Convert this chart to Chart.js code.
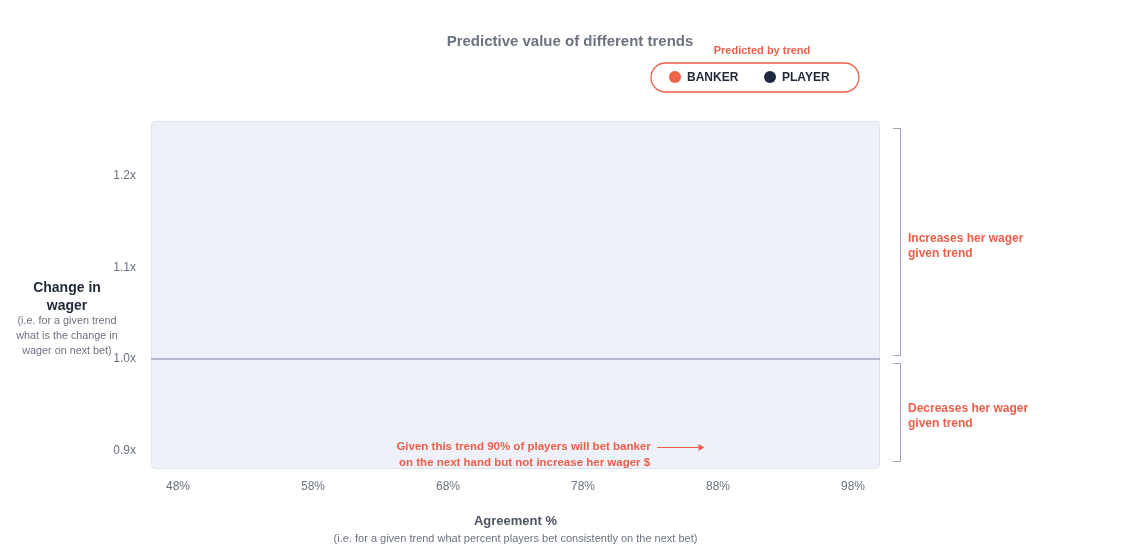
<!DOCTYPE html>
<html>
<head>
<meta charset="utf-8">
<script src="https://cdn.jsdelivr.net/npm/chart.js@4.4.1/dist/chart.umd.min.js"></script>
<style>
html,body{margin:0;padding:0;background:#fff;}
#wrap{width:1140px;height:560px;position:relative;}
</style>
</head>
<body>
<div id="wrap"><canvas id="c"></canvas></div>
<script>
// ---- data ----
const seriesNames = ['BANKER', 'PLAYER'];
const seriesColors = ['#ef6347', '#1f2a40'];
const bankerPoints = [];   // no points visible in the reference
const playerPoints = [];
const xTicks = [48, 58, 68, 78, 88, 98];
const yTicks = [0.9, 1.0, 1.1, 1.2];
const xRange = [46, 100];
const yRange = [0.88, 1.26];
const annotationLines = ['Given this trend 90% of players will bet banker', 'on the next hand but not increase her wager $'];
const annotationAt = {x: 73.6, y: 0.904, arrowFrom: 83.5, arrowTo: 87.0};
const bracketLabels = [['Increases her wager', 'given trend'], ['Decreases her wager', 'given trend']];

const FONT = '"Liberation Sans", Arial, Helvetica, sans-serif';
const RED = '#ec5f4a';

const overlay = {
  id: 'overlay',
  beforeDraw(chart) {
    const {ctx, chartArea: a} = chart;
    ctx.save();
    const r = 4;
    ctx.beginPath();
    ctx.roundRect(a.left + 0.5, a.top + 0.5, a.right - a.left - 1, a.bottom - a.top - 1, r);
    ctx.fillStyle = '#eef1f9';
    ctx.fill();
    ctx.strokeStyle = '#dfe3ec';
    ctx.lineWidth = 1;
    ctx.stroke();
    ctx.restore();
  },
  afterDraw(chart) {
    const {ctx, chartArea: a, scales} = chart;
    const W = chart.width;
    ctx.save();
    // main title
    ctx.textAlign = 'center';
    ctx.textBaseline = 'middle';
    ctx.fillStyle = '#6b7280';
    ctx.font = 'bold 15px ' + FONT;
    ctx.fillText('Predictive value of different trends', W / 2, 42);

    // legend title + pill
    ctx.fillStyle = RED;
    ctx.font = 'bold 11px ' + FONT;
    ctx.fillText('Predicted by trend', 762, 51);
    ctx.beginPath();
    ctx.roundRect(651, 63, 208, 29, 14.5);
    ctx.strokeStyle = RED;
    ctx.lineWidth = 1.3;
    ctx.stroke();
    const items = [{x: 675}, {x: 770}];
    chart.data.datasets.forEach((ds, i) => {
      const it = items[i];
      ctx.beginPath();
      ctx.arc(it.x, 77, 6, 0, Math.PI * 2);
      ctx.fillStyle = ds.backgroundColor;
      ctx.fill();
      ctx.fillStyle = '#1f2937';
      ctx.font = 'bold 12px ' + FONT;
      ctx.textAlign = 'left';
      ctx.fillText(ds.label, it.x + 12, 77.5);
    });

    // y axis title
    ctx.textAlign = 'center';
    ctx.fillStyle = '#1f2937';
    ctx.font = 'bold 14px ' + FONT;
    ctx.fillText('Change in', 67, 288);
    ctx.fillText('wager', 67, 306);
    ctx.fillStyle = '#6b7280';
    ctx.font = '10.8px ' + FONT;
    ctx.fillText('(i.e. for a given trend', 67, 321);
    ctx.fillText('what is the change in', 67, 336);
    ctx.fillText('wager on next bet)', 67, 351);

    // x axis title
    ctx.fillStyle = '#4b5563';
    ctx.font = 'bold 13px ' + FONT;
    const cx = (a.left + a.right) / 2;
    ctx.fillText('Agreement %', cx, 521);
    ctx.fillStyle = '#6b7280';
    ctx.font = '11px ' + FONT;
    ctx.fillText('(i.e. for a given trend what percent players bet consistently on the next bet)', cx, 539);

    // brackets
    const y1 = scales.y.getPixelForValue(1.0);
    const bx = a.right + 20;
    const brs = [[a.top + 7, y1 - 4], [y1 + 4, a.bottom - 8]];
    const textY = [[239, 254], [409, 424]];
    ctx.strokeStyle = '#9aa1b5';
    ctx.lineWidth = 1;
    brs.forEach(([t, b], i) => {
      ctx.beginPath();
      ctx.moveTo(bx - 7, t + 0.5);
      ctx.lineTo(bx + 0.5, t + 0.5);
      ctx.lineTo(bx + 0.5, b + 0.5);
      ctx.lineTo(bx - 7, b + 0.5);
      ctx.stroke();
      ctx.fillStyle = RED;
      ctx.font = 'bold 12px ' + FONT;
      ctx.textAlign = 'left';
      const lines = bracketLabels[i];
      ctx.fillText(lines[0], bx + 8, textY[i][0]);
      ctx.fillText(lines[1], bx + 8, textY[i][1]);
    });

    // annotation
    const ax = scales.x.getPixelForValue(annotationAt.x);
    const ay = scales.y.getPixelForValue(annotationAt.y);
    ctx.fillStyle = RED;
    ctx.font = 'bold 11.5px ' + FONT;
    ctx.textAlign = 'center';
    ctx.fillText(annotationLines[0], ax, ay);
    ctx.fillText(annotationLines[1], ax + 1, ay + 16);
    const x0 = scales.x.getPixelForValue(annotationAt.arrowFrom);
    const x1 = scales.x.getPixelForValue(annotationAt.arrowTo);
    ctx.strokeStyle = RED;
    ctx.lineWidth = 1.2;
    ctx.beginPath();
    ctx.moveTo(x0, ay + 0.5);
    ctx.lineTo(x1 - 5, ay + 0.5);
    ctx.stroke();
    ctx.beginPath();
    ctx.moveTo(x1, ay + 0.5);
    ctx.lineTo(x1 - 6, ay - 3);
    ctx.lineTo(x1 - 6, ay + 4);
    ctx.closePath();
    ctx.fill();
    ctx.restore();
  }
};

new Chart(document.getElementById('c'), {
  type: 'scatter',
  data: {
    datasets: [
      {label: seriesNames[0], data: bankerPoints, backgroundColor: seriesColors[0], borderColor: seriesColors[0], pointRadius: 6},
      {label: seriesNames[1], data: playerPoints, backgroundColor: seriesColors[1], borderColor: seriesColors[1], pointRadius: 6}
    ]
  },
  options: {
    responsive: true,
    maintainAspectRatio: false,
    animation: false,
    layout: {padding: {top: 121, right: 260, left: 0, bottom: 0}},
    plugins: {legend: {display: false}, title: {display: false}, tooltip: {enabled: false}},
    scales: {
      x: {
        type: 'linear', min: xRange[0], max: xRange[1],
        afterBuildTicks: s => { s.ticks = xTicks.map(v => ({value: v})); },
        afterFit: s => { s.height = 91; },
        grid: {display: false, drawTicks: false},
        border: {display: false},
        ticks: {padding: 10, color: '#6b7280', font: {family: FONT, size: 12}, callback: v => v + '%'}
      },
      y: {
        type: 'linear', min: yRange[0], max: yRange[1],
        afterBuildTicks: s => { s.ticks = yTicks.map(v => ({value: v})); },
        afterFit: s => { s.width = 151; },
        grid: {drawTicks: false, lineWidth: 2, color: c => (c.tick && Math.abs(c.tick.value - 1) < 1e-9) ? '#b3b8c8' : 'rgba(0,0,0,0)'},
        border: {display: false},
        ticks: {padding: 15, color: '#6b7280', font: {family: FONT, size: 12}, callback: v => v.toFixed(1) + 'x'}
      }
    }
  },
  plugins: [overlay]
});
</script>
</body>
</html>
